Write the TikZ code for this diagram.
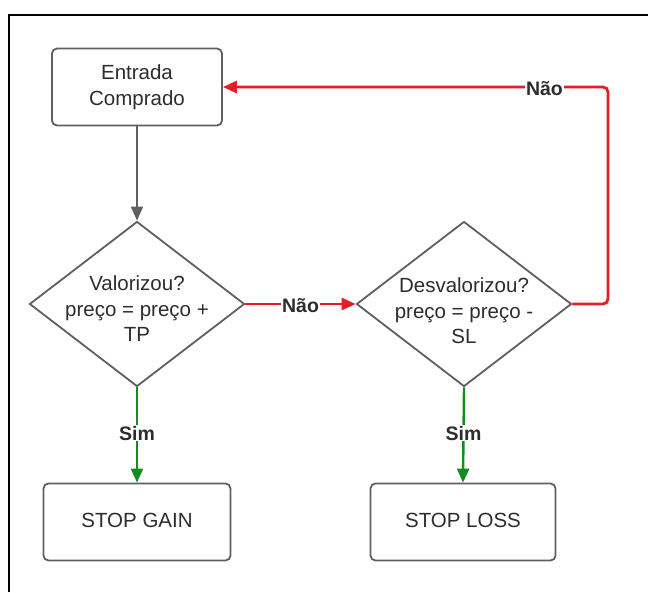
\documentclass[tikz,border=0pt]{standalone}
\usepackage{fontspec}
\setmainfont{Liberation Sans}
\usetikzlibrary{shapes.geometric,arrows.meta}

\definecolor{edgegray}{RGB}{95,95,95}
\definecolor{txtgray}{RGB}{45,45,45}
\definecolor{flowred}{RGB}{232,28,36}
\definecolor{flowgreen}{RGB}{20,140,30}

\tikzset{
  stepbox/.style={draw=edgegray, line width=1.8pt, rounded corners=5pt, fill=white,
    minimum width=#1, minimum height=77pt, inner sep=0pt},
  decision/.style={draw=edgegray, line width=1.8pt, diamond, fill=white,
    minimum width=215pt, minimum height=165pt, inner sep=0pt},
  boxtext/.style={text=txtgray, align=center, font=\fontsize{20.5}{25.5}\selectfont, inner sep=0pt},
  answer/.style={text=txtgray, fill=white, font=\bfseries\fontsize{19.5}{22}\selectfont, inner sep=1pt},
  tip/.style={-{Triangle[length=14pt,width=12pt]}},
  grayflow/.style={tip, draw=edgegray, line width=1.8pt},
  redflow/.style={tip, draw=flowred, line width=2.8pt},
  greenflow/.style={tip, draw=flowgreen, line width=2.4pt},
}

\begin{document}
\begin{tikzpicture}[x=1pt, y=-1pt]
  \useasboundingbox (0,0) rectangle (648,592);

  % outer frame (only its top and left edges fall inside the page)
  \draw[black, line width=2pt] (9,592) -- (9,15) -- (648,15);

  % boxes
  \node[stepbox=170pt] (entrada) at (137,87) {};
  \node[boxtext] at (137,87) {Entrada\\Comprado};

  \node[decision] (d1) at (137,304) {};
  \node[boxtext] at (137,309) {Valorizou?\\preço = preço +\\TP};

  \node[decision] (d2) at (464,304) {};
  \node[boxtext] at (464,311) {Desvalorizou?\\preço = preço -\\SL};

  \node[stepbox=187pt] (gain) at (137,522) {};
  \node[boxtext] at (137,520) {STOP GAIN};

  \node[stepbox=185pt] (loss) at (463,522) {};
  \node[boxtext] at (463,520) {STOP LOSS};

  % connectors
  \draw[grayflow] (entrada.south) -- (d1.north);

  \draw[redflow] (d1.east) -- node[answer, yshift=-2pt] {Não} (d2.west);

  \coordinate (turn) at (608,87);
  \draw[redflow, rounded corners=5pt] (d2.east) -| (turn)
    -- node[answer, pos=0.165, yshift=-2pt] {Não} (entrada.east);

  \draw[greenflow] (d1.south) -- node[answer, pos=0.48] {Sim} (gain.north);
  \draw[greenflow] (d2.south) -- node[answer, pos=0.48] {Sim} (loss.north);
\end{tikzpicture}
\end{document}
